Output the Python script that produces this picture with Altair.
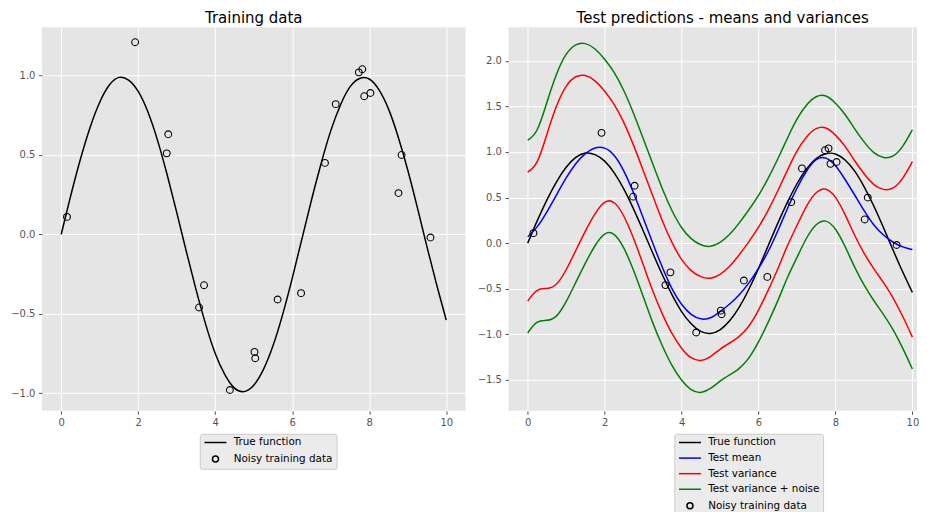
import altair as alt
import pandas as pd

FONT = "DejaVu Sans"

# ---------------- data ----------------
X_GRID = [i / 4 for i in range(41)]

TRUE_FUNCTION = [0.00, 0.25, 0.48, 0.68, 0.84, 0.95, 1.00, 0.98, 0.91, 0.78,
                 0.60, 0.38, 0.14, -0.11, -0.35, -0.57, -0.76, -0.89, -0.98, -1.00,
                 -0.96, -0.86, -0.71, -0.51, -0.28, -0.03, 0.22, 0.45, 0.66, 0.82,
                 0.94, 0.99, 0.99, 0.92, 0.80, 0.62, 0.41, 0.17, -0.08, -0.32, -0.54]

TRAIN_X = [0.15, 1.92, 2.74, 2.78, 3.58, 3.71, 4.38, 5.02, 5.04, 5.62,
           6.23, 6.85, 7.13, 7.73, 7.82, 7.87, 8.03, 8.76, 8.84, 9.59]
TRAIN_Y = [0.11, 1.21, 0.51, 0.63, -0.46, -0.32, -0.98, -0.74, -0.78, -0.41,
           -0.37, 0.45, 0.82, 1.02, 1.04, 0.87, 0.89, 0.26, 0.50, -0.02]

TEST_MEAN = [0.07, 0.17, 0.34, 0.53, 0.72, 0.88, 0.99, 1.055, 1.055, 0.98,
             0.80, 0.56, 0.28, 0.00, -0.27, -0.51, -0.68, -0.79, -0.84, -0.83,
             -0.75, -0.67, -0.57, -0.44, -0.28, -0.10, 0.13, 0.38, 0.61, 0.80,
             0.935, 0.95, 0.86, 0.70, 0.53, 0.35, 0.19, 0.085, 0.005, -0.045, -0.07]

VAR_UPPER = [0.78, 0.85, 1.20, 1.52, 1.74, 1.84, 1.85, 1.79, 1.67, 1.53,
             1.33, 1.08, 0.80, 0.52, 0.24, 0.00, -0.19, -0.31, -0.375, -0.395,
             -0.35, -0.26, -0.13, 0.015, 0.17, 0.355, 0.57, 0.80, 1.02, 1.175,
             1.27, 1.28, 1.19, 1.07, 0.90, 0.755, 0.63, 0.58, 0.59, 0.70, 0.894]
VAR_LOWER = [-0.635, -0.49, -0.505, -0.47, -0.30, -0.08, 0.135, 0.33, 0.47, 0.47,
             0.31, 0.06, -0.23, -0.53, -0.78, -1.00, -1.16, -1.27, -1.30, -1.25,
             -1.16, -1.095, -1.03, -0.92, -0.74, -0.52, -0.29, -0.02, 0.19, 0.42,
             0.57, 0.615, 0.52, 0.32, 0.08, -0.12, -0.285, -0.43, -0.595, -0.80, -1.03]

NOISE_UPPER = [1.13, 1.20, 1.55, 1.87, 2.09, 2.19, 2.20, 2.14, 2.02, 1.88,
               1.68, 1.43, 1.15, 0.87, 0.59, 0.35, 0.16, 0.04, -0.025, -0.045,
               0.00, 0.09, 0.22, 0.365, 0.52, 0.705, 0.92, 1.15, 1.37, 1.525,
               1.62, 1.63, 1.54, 1.42, 1.25, 1.105, 0.98, 0.93, 0.94, 1.05, 1.244]
NOISE_LOWER = [-0.985, -0.84, -0.855, -0.82, -0.65, -0.43, -0.215, -0.02, 0.125, 0.12,
               -0.04, -0.29, -0.58, -0.88, -1.13, -1.35, -1.51, -1.62, -1.65, -1.60,
               -1.51, -1.445, -1.38, -1.27, -1.09, -0.87, -0.64, -0.37, -0.16, 0.07,
               0.22, 0.265, 0.17, -0.03, -0.27, -0.47, -0.635, -0.78, -0.945, -1.15, -1.38]

LEFT_LABELS = ["True function", "Noisy training data"]
LEFT_COLORS = ["black", "black"]
RIGHT_LABELS = ["True function", "Test mean", "Test variance",
                "Test variance + noise", "Noisy training data"]
RIGHT_COLORS = ["black", "#0000FF", "#FF0000", "#008000", "black"]

LEFT_Y_TICKS = [-1.0, -0.5, 0.0, 0.5, 1.0]
RIGHT_Y_TICKS = [-1.5, -1.0, -0.5, 0.0, 0.5, 1.0, 1.5, 2.0]
X_TICKS = [0, 2, 4, 6, 8, 10]

# ---------------- tables ----------------
def curve(values, part="a"):
    return pd.DataFrame({"x": X_GRID, "y": values, "part": part})

true_df = curve(TRUE_FUNCTION)
train_df = pd.DataFrame({"x": TRAIN_X, "y": TRAIN_Y, "series": "Noisy training data"})
mean_df = curve(TEST_MEAN)
var_df = pd.concat([curve(VAR_UPPER, "up"), curve(VAR_LOWER, "lo")])
noise_df = pd.concat([curve(NOISE_UPPER, "up"), curve(NOISE_LOWER, "lo")])

LINE_PATH = "M-2.75,0L2.75,0"
CIRCLE_PATH = "M0.75,0A0.75,0.75,0,1,1,-0.75,0A0.75,0.75,0,1,1,0.75,0Z"

H = 384


def make_legend(x, y):
    return alt.Legend(title=None, orient="none", legendX=x, legendY=y,
                      fillColor="#EBEBEB", strokeColor="#CCCCCC", cornerRadius=2,
                      padding=3.5, labelFont=FONT, labelFontSize=10.4, labelColor="black",
                      symbolSize=64, symbolStrokeWidth=1.5, symbolOffset=7,
                      labelOffset=13, rowPadding=4.6, symbolFillColor="transparent")


def panel(title, labels, colors, x_max, width, y_domain, y_ticks, line_layers,
          legend_xy, title_dx):
    cscale = alt.Scale(domain=labels, range=colors)
    sscale = alt.Scale(domain=labels,
                       range=[LINE_PATH] * (len(labels) - 1) + [CIRCLE_PATH])
    xscale = alt.Scale(domain=[-0.5, x_max], nice=False, zero=False)
    yscale = alt.Scale(domain=y_domain, nice=False, zero=False)
    xenc = alt.X("x:Q", scale=xscale, axis=alt.Axis(values=X_TICKS, format="d", title=None))
    yenc = alt.Y("y:Q", scale=yscale, axis=alt.Axis(values=y_ticks, format=".1f", title=None))
    layers = []
    for df, col in line_layers:
        layers.append(
            alt.Chart(df).mark_line(strokeWidth=1.5, interpolate="basis", color=col).encode(
                x=xenc, y=yenc, detail="part:N",
            )
        )
    leg = make_legend(*legend_xy)
    layers.append(
        alt.Chart(train_df).mark_point(filled=False, size=82, strokeWidth=1.1, opacity=1).encode(
            x=xenc, y=yenc,
            color=alt.Color("series:N", scale=cscale, legend=leg),
            shape=alt.Shape("series:N", scale=sscale, legend=leg),
        )
    )
    return alt.layer(*layers).properties(
        width=width, height=H,
        title=alt.TitleParams(title, font=FONT, fontSize=15, fontWeight="normal",
                              color="black", offset=1.5, frame="group", anchor="middle",
                              dx=title_dx),
    )


left = panel("Training data", LEFT_LABELS, LEFT_COLORS, 10.5, 424, [-1.111, 1.304],
             LEFT_Y_TICKS, [(true_df, "black")], (158, 407), 0)
right = panel("Test predictions - means and variances", RIGHT_LABELS, RIGHT_COLORS,
              10.12, 409, [-1.839, 2.368], RIGHT_Y_TICKS,
              [(true_df, "black"), (mean_df, "#0000FF"), (var_df, "#FF0000"),
               (noise_df, "#008000")], (166, 407), 10)

chart = alt.hconcat(left, right, spacing=11).resolve_scale(
    color="independent", shape="independent", x="independent", y="independent"
).resolve_legend(color="independent", shape="independent").properties(
    padding={"left": 2, "top": 2, "right": 0, "bottom": 0}
).configure_view(fill="#E5E5E5", strokeWidth=0).configure_axis(
    labelFont=FONT, labelFontSize=10, labelColor="#555555", tickColor="#555555",
    tickSize=3.5, tickWidth=1, domain=False, gridColor="white", gridWidth=1,
    labelPadding=3.5,
)

chart.save("out.html", embed_options={"renderer": "svg", "actions": False})
